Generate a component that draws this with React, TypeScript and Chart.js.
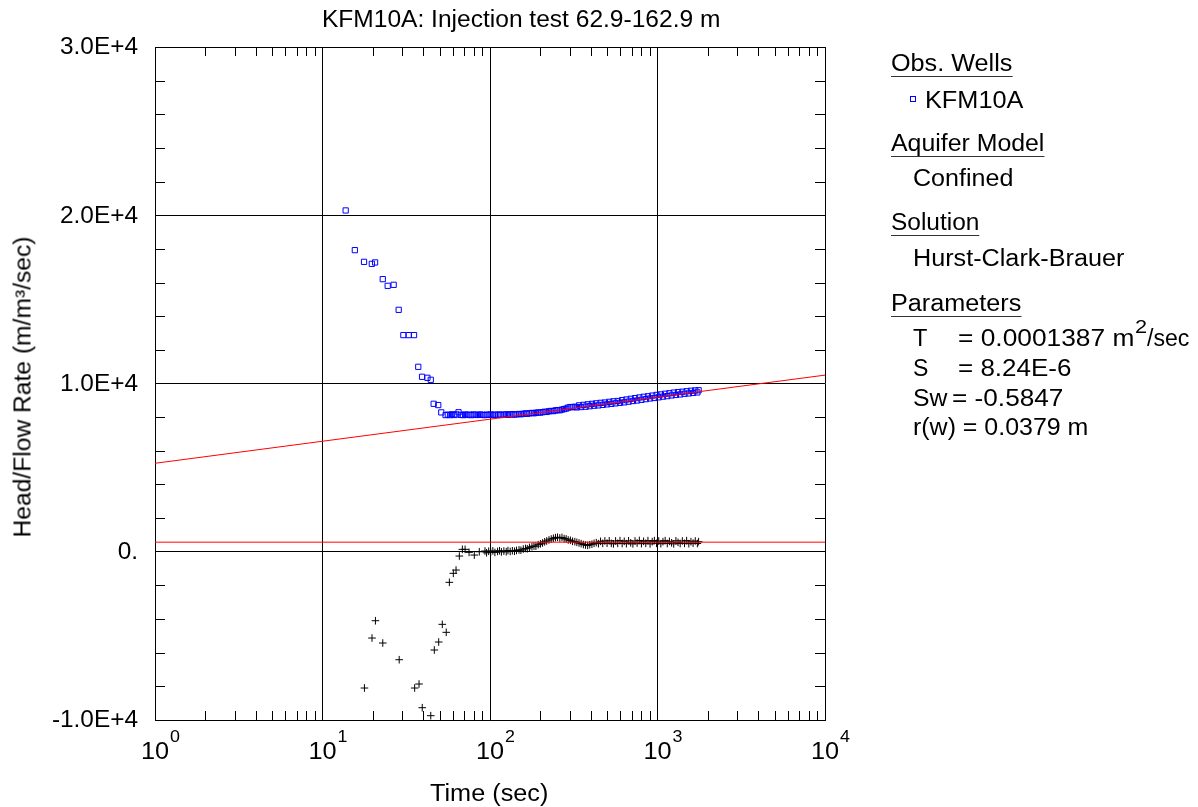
import React, { useEffect, useRef } from 'react';
import { Chart, registerables } from 'chart.js';

Chart.register(...registerables);

// ---------- data ----------
const headTime = [
  13.75, 15.6, 17.7, 19.7, 20.6, 22.9, 24.5, 26.6, 28.5, 30.4, 32.7, 35.2, 37.3, 39.3, 42.3, 44.3, 46.1, 49.1, 51.2, 54.3,
  56, 57.7, 59.4, 61.2, 63, 64.9, 66.9, 68.9, 71, 73.1, 75.3, 77.5, 79.9, 82.3, 84.7, 87.3, 89.9, 92.6, 95.4, 98.2,
  101, 104, 107, 111, 114, 117, 121, 125, 128, 132, 136, 140, 144, 149, 153, 158, 163, 167, 172, 178,
  183, 188, 194, 200, 206, 212, 218, 225, 232, 239, 246, 253, 261, 269, 277, 285, 293, 302, 311, 321,
  330, 340, 350, 361, 372, 383, 394, 406, 418, 431, 444, 457, 471, 485, 500, 515, 530, 546, 562, 579,
  597, 615, 633, 652, 672, 692, 713, 734, 756, 779, 802, 826, 851, 877, 903, 930, 958, 987, 1017, 1047,
  1078, 1111, 1144, 1178, 1214, 1250, 1288, 1326, 1366, 1407, 1449, 1493, 1538, 1584, 1631, 1680, 1730, 1760,
];
const headValue = [
  20285, 17926, 17231, 17112, 17195, 16203, 15805, 15865, 14379, 12876, 12876, 12876, 10992, 10398, 10339, 10220, 8794, 8717, 8283, 8122,
  8150, 8120, 8170, 8130, 8160, 8290, 8140, 8120, 8160, 8130, 8150, 8120, 8160, 8140, 8130, 8160, 8140, 8120, 8150, 8140,
  8160, 8130, 8150, 8140, 8160, 8130, 8150, 8170, 8140, 8160, 8180, 8150, 8170, 8190, 8170, 8200, 8220, 8200, 8230, 8250,
  8230, 8260, 8280, 8270, 8300, 8320, 8310, 8350, 8370, 8360, 8400, 8420, 8410, 8450, 8480, 8510, 8570, 8600, 8590, 8620,
  8580, 8700, 8600, 8730, 8620, 8760, 8650, 8790, 8680, 8820, 8700, 8850, 8730, 8870, 8760, 8910, 8790, 8940, 8820, 8960,
  8850, 9010, 8880, 9050, 8920, 9090, 8960, 9130, 8990, 9170, 9030, 9210, 9070, 9240, 9110, 9280, 9140, 9320, 9180, 9350,
  9220, 9390, 9250, 9420, 9290, 9460, 9320, 9490, 9350, 9510, 9390, 9540, 9410, 9570, 9440, 9590, 9470, 9600,
];

const derivTime = [
  17.8, 19.75, 20.7, 22.9, 28.7, 35.5, 37.7, 39.4, 44.3, 46.5, 49.4, 51.9, 54.8, 57.2, 60.4, 62.7, 65.6, 68.4, 71, 75, 80.6, 86.3, 93.3,
  95.4, 98.2, 101, 104, 107, 111, 114, 117, 121, 125, 128, 132, 136, 140, 144, 149, 153, 158, 163, 167, 172, 178,
  183, 188, 194, 200, 206, 212, 218, 225, 232, 239, 246, 253, 261, 269, 277, 285, 293, 302, 311, 321,
  330, 340, 350, 361, 372, 383, 394, 406, 418, 431, 444, 457, 471, 485, 500, 515, 530, 546, 562, 579,
  597, 615, 633, 652, 672, 692, 713, 734, 756, 779, 802, 826, 851, 877, 903, 930, 958, 987, 1017, 1047,
  1078, 1111, 1144, 1178, 1214, 1250, 1288, 1326, 1366, 1407, 1449, 1493, 1538, 1584, 1631, 1680, 1730, 1760,
];
const derivValue = [
  -8099, -5128, -4100, -5425, -6417, -8099, -7861, -9269, -9744, -5841, -5365, -4314, -4789, -1818, -1283, -1087, -255, 143, 143, -36, -196, 0, 42,
  -60, 30, -20, 50, -40, 20, 60, -10, 40, 0, 70, 20, 60, 30, 80, 110, 90, 160, 200, 180, 260, 300,
  340, 330, 420, 470, 520, 590, 640, 700, 760, 800, 840, 860, 820, 850, 780, 760, 700, 680, 620, 600,
  560, 520, 480, 430, 400, 380, 420, 450, 500, 540, 480, 620, 500, 640, 510, 650, 500, 470, 640, 500,
  660, 490, 620, 480, 650, 530, 470, 640, 520, 670, 480, 620, 500, 660, 470, 600, 660, 500, 640, 480,
  600, 660, 490, 620, 530, 470, 650, 560, 490, 640, 500, 660, 480, 600, 510, 640, 490, 600,
];

const fitTime = [1, 10000];
const fitHeadValue = [5258, 10498];
const fitDerivValue = [570, 570];

const yTickValues = [-10000, 0, 10000, 20000, 30000];
const yTickLabels = ['-1.0E+4', '0.', '1.0E+4', '2.0E+4', '3.0E+4'];
const xDecades = [1, 10, 100, 1000, 10000];
const xExponents = ['0', '1', '2', '3', '4'];
const xMantissas = [1, 2, 3, 4, 5, 6, 7, 8, 9];

const FONT = '"Liberation Sans", Arial, Helvetica, sans-serif';

let measureCtx: CanvasRenderingContext2D | null = null;
function textWidth(text: string, size: number): number {
  if (!measureCtx) measureCtx = document.createElement('canvas').getContext('2d');
  measureCtx!.font = `${size}px ${FONT}`;
  return measureCtx!.measureText(text).width;
}

type LabelProps = {
  text: string;
  x: number;
  cy: number;
  size?: number;
  width?: number;
  anchor?: 'left' | 'center';
  underline?: boolean;
};

function Label({ text, x, cy, size = 23, width, anchor = 'left', underline = false }: LabelProps) {
  const w = textWidth(text, size);
  const sx = width ? (width + 0.06 * size) / w : 1.05;
  const left = anchor === 'center' ? x - (w * sx) / 2 : x;
  return (
    <div
      style={{
        position: 'absolute',
        left,
        top: cy - size * 0.4885,
        fontFamily: FONT,
        fontSize: size,
        lineHeight: `${size}px`,
        whiteSpace: 'pre',
        transform: `scaleX(${sx})`,
        transformOrigin: '0 0',
        color: '#000',
        borderBottom: underline ? '1.5px solid #333' : undefined,
        paddingBottom: underline ? 1 : 0,
      }}
    >
      {text}
    </div>
  );
}

const framePlugin = {
  id: 'frameTicks',
  afterDraw(chart: any) {
    const { ctx, chartArea: a, scales } = chart;
    const xs = scales.x;
    const ys = scales.y;
    ctx.save();
    ctx.strokeStyle = '#000';
    ctx.lineWidth = 1;
    ctx.beginPath();
    for (let v = -10000; v <= 30000; v += 2000) {
      if (v % 10000 === 0) continue;
      const py = Math.round(ys.getPixelForValue(v)) + 0.5;
      ctx.moveTo(a.left, py);
      ctx.lineTo(a.left + 10, py);
      ctx.moveTo(a.right - 10, py);
      ctx.lineTo(a.right, py);
    }
    for (let d = 0; d < xDecades.length - 1; d++) {
      for (let m = 1; m < xMantissas.length; m++) {
        const v = xDecades[d] * xMantissas[m];
        const px = Math.round(xs.getPixelForValue(v)) + 0.5;
        ctx.moveTo(px, a.bottom);
        ctx.lineTo(px, a.bottom - 9);
        ctx.moveTo(px, a.top);
        ctx.lineTo(px, a.top + 9);
      }
    }
    ctx.stroke();

    ctx.fillStyle = '#000';
    ctx.textBaseline = 'middle';
    ctx.font = `23px ${FONT}`;
    ctx.textAlign = 'right';
    const refW = ctx.measureText('3.0E+4').width;
    const ySx = 78 / refW;
    yTickValues.forEach((v, i) => {
      const py = ys.getPixelForValue(v);
      ctx.save();
      ctx.translate(138, py + 1);
      ctx.scale(ySx, 1);
      ctx.fillText(yTickLabels[i], 0, 0);
      ctx.restore();
    });

    xDecades.forEach((v, i) => {
      const px = xs.getPixelForValue(v);
      ctx.save();
      ctx.font = `23px ${FONT}`;
      ctx.textAlign = 'center';
      ctx.translate(px, 753);
      ctx.scale(1.1, 1);
      ctx.fillText('10', 0, 0);
      ctx.restore();
      ctx.save();
      ctx.font = `17px ${FONT}`;
      ctx.textAlign = 'left';
      ctx.translate(px + 15, 737);
      ctx.scale(1.05, 1);
      ctx.fillText(xExponents[i], 0, 0);
      ctx.restore();
    });
    ctx.restore();
  },
};

export default function App() {
  const canvasRef = useRef<HTMLCanvasElement | null>(null);

  useEffect(() => {
    const canvas = canvasRef.current;
    if (!canvas) return;
    const xTicks: number[] = [];
    xDecades.slice(0, -1).forEach((d) => xMantissas.forEach((m) => xTicks.push(d * m)));
    xTicks.push(xDecades[xDecades.length - 1]);

    const chart = new Chart(canvas, {
      type: 'scatter',
      data: {
        datasets: [
          {
            label: 'fit',
            data: fitTime.map((t, i) => ({ x: t, y: fitHeadValue[i] })),
            showLine: true,
            borderColor: '#ff0000',
            borderWidth: 1,
            pointRadius: 0,
            order: 0,
          },
          {
            label: 'fit derivative',
            data: fitTime.map((t, i) => ({ x: t, y: fitDerivValue[i] })),
            showLine: true,
            borderColor: '#ff0000',
            borderWidth: 1,
            pointRadius: 0,
            order: 0,
          },
          {
            label: 'KFM10A',
            data: headTime.map((t, i) => ({ x: t, y: headValue[i] })),
            pointStyle: 'rect',
            pointRadius: 3.7,
            borderColor: '#0000ff',
            backgroundColor: 'rgba(0,0,0,0)',
            borderWidth: 1,
            showLine: false,
            order: 1,
          },
          {
            label: 'KFM10A derivative',
            data: derivTime.map((t, i) => ({ x: t, y: derivValue[i] })),
            pointStyle: 'cross',
            pointRadius: 3.8,
            borderColor: '#000000',
            backgroundColor: '#000000',
            borderWidth: 1,
            showLine: false,
            order: 2,
          },
        ],
      },
      options: {
        animation: false,
        responsive: false,
        devicePixelRatio: 1,
        layout: { padding: { left: 155, right: 373, top: 47, bottom: 87 } },
        plugins: { legend: { display: false }, tooltip: { enabled: false }, title: { display: false } },
        scales: {
          x: {
            type: 'logarithmic',
            min: 1,
            max: 10000,
            afterBuildTicks: (scale: any) => {
              scale.ticks = xTicks.map((v) => ({ value: v }));
            },
            ticks: { display: false },
            grid: {
              drawTicks: false,
              lineWidth: 1,
              color: (c: any) => {
                const v = c.tick ? c.tick.value : 0;
                return xDecades.includes(v) ? '#000' : 'rgba(0,0,0,0)';
              },
            },
            border: { display: true, color: '#000', width: 1 },
          },
          y: {
            type: 'linear',
            min: -10000,
            max: 30000,
            ticks: { display: false, stepSize: 2000 },
            grid: {
              drawTicks: false,
              lineWidth: 1,
              color: (c: any) => {
                const v = c.tick ? c.tick.value : 1;
                return Math.abs(v % 10000) < 1e-6 ? '#000' : 'rgba(0,0,0,0)';
              },
            },
            border: { display: true, color: '#000', width: 1 },
          },
        },
      },
      plugins: [framePlugin],
    });
    return () => chart.destroy();
  }, []);

  const ytitle = 'Head/Flow Rate (m/m³/sec)';
  const ytSize = 23;
  const ytSx = 301 / textWidth(ytitle, ytSize);

  return (
    <div style={{ position: 'absolute', left: 0, top: 0, width: 1198, height: 807, background: '#fff', overflow: 'hidden' }}>
      <canvas ref={canvasRef} width={1198} height={807} style={{ display: 'block', width: 1198, height: 807 }} />
      <Label text="KFM10A: Injection test 62.9-162.9 m" x={521} cy={19} width={397} anchor="center" />
      <Label text="Time (sec)" x={489} cy={793} width={117} anchor="center" />
      <div
        style={{
          position: 'absolute',
          left: 23,
          top: 387,
          transform: `translate(-50%,-50%) rotate(-90deg) scaleX(${ytSx})`,
          fontFamily: FONT,
          fontSize: ytSize,
          lineHeight: `${ytSize}px`,
          whiteSpace: 'pre',
          color: '#000',
        }}
      >
        {ytitle}
      </div>

      <Label text="Obs. Wells" x={891} cy={63} width={120} underline />
      <div style={{ position: 'absolute', left: 910, top: 96, width: 4, height: 4, border: '1px solid #0000ff' }} />
      <Label text="KFM10A" x={925} cy={100} width={97} />
      <Label text="Aquifer Model" x={891} cy={143} width={152} underline />
      <Label text="Confined" x={913} cy={178} width={99} />
      <Label text="Solution" x={891} cy={222} width={87} underline />
      <Label text="Hurst-Clark-Brauer" x={913} cy={258} width={210} />
      <Label text="Parameters" x={891} cy={303} width={129} underline />
      <Label text="T" x={913} cy={338} width={13} />
      <Label text="= 0.0001387 m" x={958} cy={338} width={175} />
      <Label text="2" x={1135} cy={327} size={18} width={11} />
      <Label text="/sec" x={1147} cy={338} width={41} />
      <Label text="S" x={913} cy={368} width={14} />
      <Label text="= 8.24E-6" x={958} cy={368} width={112} />
      <Label text="Sw" x={913} cy={398} width={33} />
      <Label text="= -0.5847" x={952} cy={398} width={110} />
      <Label text="r(w) = 0.0379 m" x={913} cy={427} width={174} />
    </div>
  );
}
